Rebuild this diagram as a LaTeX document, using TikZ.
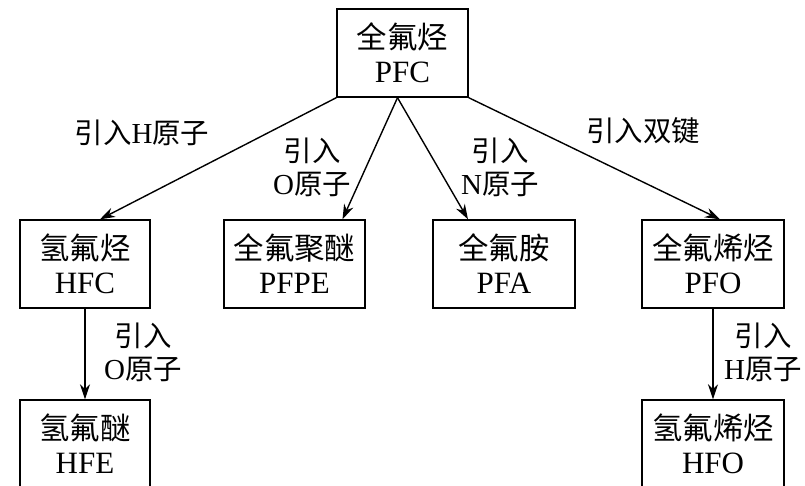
\documentclass[tikz,border=0pt]{standalone}
\usepackage{fontspec}
\setmainfont{Liberation Serif}
\newfontfamily\cjk[Scale=0.98]{Noto Sans CJK SC}
\usetikzlibrary{arrows.meta,calc}
\begin{document}
\begin{tikzpicture}[x=1pt,y=-1pt,
  box/.style={draw,line width=1.4pt,align=center,inner sep=0pt,minimum height=88pt,
    font=\fontsize{31}{34}\selectfont},
  lbl/.style={align=center,inner sep=0pt,font=\fontsize{29}{33}\selectfont},
  arr/.style={line width=1.4pt,-{Stealth[length=15pt,width=10pt]}}]
\clip (0,0) rectangle (805,486);
\useasboundingbox (0,0) rectangle (805,486);
\node[box,minimum width=131pt] (PFC) at (402.5,53) {{\cjk 全氟烃}\\PFC};
\node[box,minimum width=130pt] (HFC) at (85,264) {{\cjk 氢氟烃}\\HFC};
\node[box,minimum width=141pt] (PFPE) at (294.5,264) {{\cjk 全氟聚醚}\\PFPE};
\node[box,minimum width=142pt] (PFA) at (504,264) {{\cjk 全氟胺}\\PFA};
\node[box,minimum width=142pt] (PFO) at (713,264) {{\cjk 全氟烯烃}\\PFO};
\node[box,minimum width=130pt] (HFE) at (85,444) {{\cjk 氢氟醚}\\HFE};
\node[box,minimum width=142pt] (HFO) at (713,444) {{\cjk 氢氟烯烃}\\HFO};
\draw[arr] (PFC.south west) -- ($(HFC.north)+(15,0)$);
\draw[arr] ($(PFC.south)+(-5,0)$) -- ($(PFPE.north)+(48,0)$);
\draw[arr] ($(PFC.south)+(-5,0)$) -- ($(PFA.north)+(-36,0)$);
\draw[arr] (PFC.south east) -- ($(PFO.north)+(7,0)$);
\draw[arr] (HFC.south) -- (HFE.north);
\draw[arr] (PFO.south) -- (HFO.north);
\node[lbl] (l1) at (142,133) {{\cjk 引入}H{\cjk 原子}};
\node[lbl] (l2) at (312,167) {{\cjk 引入}\\O{\cjk 原子}};
\node[lbl] (l3) at (500,167) {{\cjk 引入}\\N{\cjk 原子}};
\node[lbl] (l4) at (643,131) {{\cjk 引入双键}};
\node[lbl] (l5) at (143,352) {{\cjk 引入}\\O{\cjk 原子}};
\node[lbl] (l6) at (763,352) {{\cjk 引入}\\H{\cjk 原子}};
\end{tikzpicture}
\end{document}
